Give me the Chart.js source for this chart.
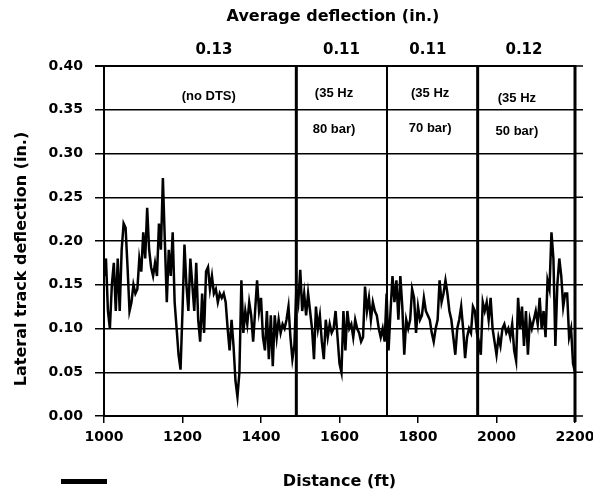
<!DOCTYPE html>
<html>
<head>
<meta charset="utf-8">
<script src="https://cdn.jsdelivr.net/npm/chart.js@4.4.0/dist/chart.umd.min.js"></script>
<style>
  html, body { margin: 0; padding: 0; background: #fff; }
  #wrap { width: 593px; height: 493px; }
</style>
</head>
<body>
<div id="wrap"><canvas id="chart" width="593" height="493"></canvas></div>
<script>
// distance along the track (ft) and measured lateral deflection (in.)
const distanceFt = [
  1000, 1005, 1010, 1015, 1020, 1025, 1030, 1035, 1040, 1045, 1050, 1055, 1060, 1065, 1070, 1075, 1080, 1085, 1090, 1095,
  1100, 1105, 1110, 1115, 1120, 1125, 1130, 1135, 1140, 1145, 1150, 1155, 1160, 1165, 1170, 1175, 1180, 1185, 1190, 1195,
  1200, 1205, 1210, 1215, 1220, 1225, 1230, 1235, 1240, 1245, 1250, 1255, 1260, 1265, 1270, 1275, 1280, 1285, 1290, 1295,
  1300, 1305, 1310, 1315, 1320, 1325, 1330, 1335, 1340, 1345, 1350, 1355, 1360, 1365, 1370, 1375, 1380, 1385, 1390, 1395,
  1400, 1405, 1410, 1415, 1420, 1425, 1430, 1435, 1440, 1445, 1450, 1455, 1460, 1465, 1470, 1475, 1480, 1485, 1490, 1495,
  1500, 1505, 1510, 1515, 1520, 1525, 1530, 1535, 1540, 1545, 1550, 1555, 1560, 1565, 1570, 1575, 1580, 1585, 1590, 1595,
  1600, 1605, 1610, 1615, 1620, 1625, 1630, 1635, 1640, 1645, 1650, 1655, 1660, 1665, 1670, 1675, 1680, 1685, 1690, 1695,
  1700, 1705, 1710, 1715, 1720, 1725, 1730, 1735, 1740, 1745, 1750, 1755, 1760, 1765, 1770, 1775, 1780, 1785, 1790, 1795,
  1800, 1805, 1810, 1815, 1820, 1825, 1830, 1835, 1840, 1845, 1850, 1855, 1860, 1865, 1870, 1875, 1880, 1885, 1890, 1895,
  1900, 1905, 1910, 1915, 1920, 1925, 1930, 1935, 1940, 1945, 1950, 1955, 1960, 1965, 1970, 1975, 1980, 1985, 1990, 1995,
  2000, 2005, 2010, 2015, 2020, 2025, 2030, 2035, 2040, 2045, 2050, 2055, 2060, 2065, 2070, 2075, 2080, 2085, 2090, 2095,
  2100, 2105, 2110, 2115, 2120, 2125, 2130, 2135, 2140, 2145, 2150, 2155, 2160, 2165, 2170, 2175, 2180, 2185, 2190, 2195,
  2200
];
const deflectionIn = [
  0.16, 0.18, 0.12, 0.10, 0.15, 0.175, 0.12, 0.18, 0.12, 0.19, 0.22, 0.215, 0.17, 0.12, 0.13, 0.15, 0.14, 0.145, 0.18, 0.165,
  0.21, 0.18, 0.238, 0.19, 0.17, 0.16, 0.175, 0.16, 0.22, 0.19, 0.272, 0.20, 0.13, 0.19, 0.16, 0.21, 0.13, 0.10, 0.07, 0.053,
  0.12, 0.196, 0.15, 0.12, 0.18, 0.15, 0.12, 0.175, 0.11, 0.085, 0.14, 0.095, 0.165, 0.17, 0.145, 0.16, 0.14, 0.145, 0.13, 0.14,
  0.135, 0.14, 0.13, 0.10, 0.075, 0.11, 0.08, 0.04, 0.022, 0.05, 0.155, 0.095, 0.12, 0.105, 0.13, 0.115, 0.085, 0.12, 0.155, 0.12,
  0.135, 0.09, 0.075, 0.12, 0.065, 0.115, 0.057, 0.115, 0.09, 0.11, 0.095, 0.105, 0.10, 0.11, 0.125, 0.09, 0.065, 0.08, 0.145, 0.13,
  0.167, 0.12, 0.14, 0.115, 0.14, 0.12, 0.10, 0.065, 0.125, 0.10, 0.115, 0.085, 0.065, 0.11, 0.09, 0.105, 0.095, 0.10, 0.12, 0.09,
  0.06, 0.05, 0.12, 0.075, 0.12, 0.10, 0.105, 0.09, 0.11, 0.10, 0.095, 0.085, 0.09, 0.148, 0.12, 0.135, 0.11, 0.13, 0.12, 0.115,
  0.10, 0.09, 0.10, 0.085, 0.14, 0.075, 0.12, 0.16, 0.13, 0.155, 0.11, 0.16, 0.125, 0.07, 0.11, 0.10, 0.11, 0.145, 0.135, 0.095,
  0.125, 0.11, 0.115, 0.135, 0.12, 0.115, 0.11, 0.095, 0.085, 0.10, 0.11, 0.155, 0.13, 0.14, 0.155, 0.14, 0.12, 0.11, 0.09, 0.07,
  0.10, 0.11, 0.125, 0.10, 0.066, 0.09, 0.10, 0.095, 0.125, 0.12, 0.095, 0.085, 0.07, 0.13, 0.12, 0.13, 0.11, 0.135, 0.10, 0.085,
  0.07, 0.09, 0.08, 0.10, 0.105, 0.095, 0.10, 0.09, 0.105, 0.075, 0.063, 0.135, 0.10, 0.125, 0.08, 0.12, 0.07, 0.11, 0.10, 0.11,
  0.12, 0.105, 0.135, 0.10, 0.12, 0.09, 0.155, 0.145, 0.21, 0.18, 0.08, 0.15, 0.18, 0.16, 0.125, 0.14, 0.14, 0.09, 0.10, 0.06,
  0.05
];

// test sections: boundaries (ft), average deflection and conditions
const sectionBoundsFt = [1490, 1721, 1952];
const avgDeflection = ['0.13', '0.11', '0.11', '0.12'];
const sectionNotes = [['(no DTS)'], ['(35 Hz', '80 bar)'], ['(35 Hz', '70 bar)'], ['(35 Hz', '50 bar)']];

// where the section texts sit (data units)
const avgLabelFt = [1280, 1605, 1825, 2070];
const noteFt = [1267, 1586, 1831, 2052];
const noteY = [[0.365], [0.369, 0.327], [0.369, 0.329], [0.363, 0.325]];
const dividerWidths = [3, 2, 3];

const boldFont = (size) => ({ family: 'DejaVu Sans', weight: 'bold', size: size });

const sectionDecor = {
  id: 'sectionDecor',
  afterDatasetsDraw(chart) {
    const { ctx, chartArea: area, scales: { x, y } } = chart;
    ctx.save();
    ctx.strokeStyle = '#000';
    sectionBoundsFt.forEach((b, i) => {
      const px = x.getPixelForValue(b);
      ctx.lineWidth = dividerWidths[i];
      ctx.beginPath();
      ctx.moveTo(px, area.top);
      ctx.lineTo(px, area.bottom);
      ctx.stroke();
    });
    // right frame
    ctx.lineWidth = 3;
    ctx.beginPath();
    ctx.moveTo(area.right, area.top - 1);
    ctx.lineTo(area.right, area.bottom + 6);
    ctx.stroke();
    // gridlines run a little past the frame
    ctx.lineWidth = 1.5;
    y.ticks.forEach(t => {
      const py = y.getPixelForValue(t.value);
      ctx.beginPath();
      ctx.moveTo(area.right, py);
      ctx.lineTo(area.right + 8, py);
      ctx.stroke();
    });
    ctx.restore();
  },
  afterDraw(chart) {
    const { ctx, scales: { x, y } } = chart;
    ctx.save();
    ctx.fillStyle = '#000';
    ctx.textAlign = 'center';
    ctx.textBaseline = 'middle';

    ctx.font = 'bold 16px "DejaVu Sans"';
    ctx.fillText('Average deflection (in.)', 333, 17);

    ctx.font = 'bold 15px "DejaVu Sans"';
    avgDeflection.forEach((t, i) => ctx.fillText(t, x.getPixelForValue(avgLabelFt[i]), 50));

    ctx.font = 'bold 13px "Liberation Sans"';
    sectionNotes.forEach((lines, i) => {
      lines.forEach((t, j) => ctx.fillText(t, x.getPixelForValue(noteFt[i]), y.getPixelForValue(noteY[i][j])));
    });

    // y axis title
    ctx.font = 'bold 16px "DejaVu Sans"';
    ctx.translate(22, 259);
    ctx.rotate(-Math.PI / 2);
    ctx.fillText('Lateral track deflection (in.)', 0, 0);
    ctx.restore();

    // small legend swatch
    ctx.save();
    ctx.fillStyle = '#000';
    ctx.fillRect(61, 479, 46, 5);
    ctx.restore();
  }
};

new Chart(document.getElementById('chart'), {
  type: 'line',
  data: {
    datasets: [{
      label: 'Deflection',
      data: distanceFt.map((d, i) => ({ x: d, y: deflectionIn[i] })),
      borderColor: '#000',
      borderWidth: 2.5,
      pointRadius: 0,
      tension: 0
    }]
  },
  options: {
    responsive: false,
    animation: false,
    layout: { padding: { top: 66, right: 18, left: 0, bottom: 0 } },
    plugins: { legend: { display: false }, tooltip: { enabled: false } },
    scales: {
      x: {
        type: 'linear',
        min: 1000,
        max: 2200,
        grid: { drawOnChartArea: false, tickLength: 7, color: '#000', lineWidth: 1.5 },
        border: { color: '#000', width: 2 },
        ticks: {
          stepSize: 200,
          color: '#000',
          font: boldFont(14),
          padding: 6,
          maxRotation: 0,
          autoSkip: false,
          callback: v => String(v)
        },
        title: {
          display: true,
          text: 'Distance (ft)',
          color: '#000',
          font: boldFont(16),
          padding: { top: 0, bottom: 2 }
        },
        afterFit: s => { s.height = 77; s.paddingLeft = 0; s.paddingRight = 0; }
      },
      y: {
        min: 0,
        max: 0.4,
        grid: {
          color: '#000',
          tickLength: 9,
          lineWidth: c => (c.index === 8 ? 2 : 1.5)
        },
        border: { color: '#000', width: 2 },
        ticks: {
          stepSize: 0.05,
          color: '#000',
          font: boldFont(14),
          padding: 12,
          callback: v => v.toFixed(2)
        },
        afterFit: s => { s.width = 104; }
      }
    }
  },
  plugins: [sectionDecor]
});
</script>
</body>
</html>
